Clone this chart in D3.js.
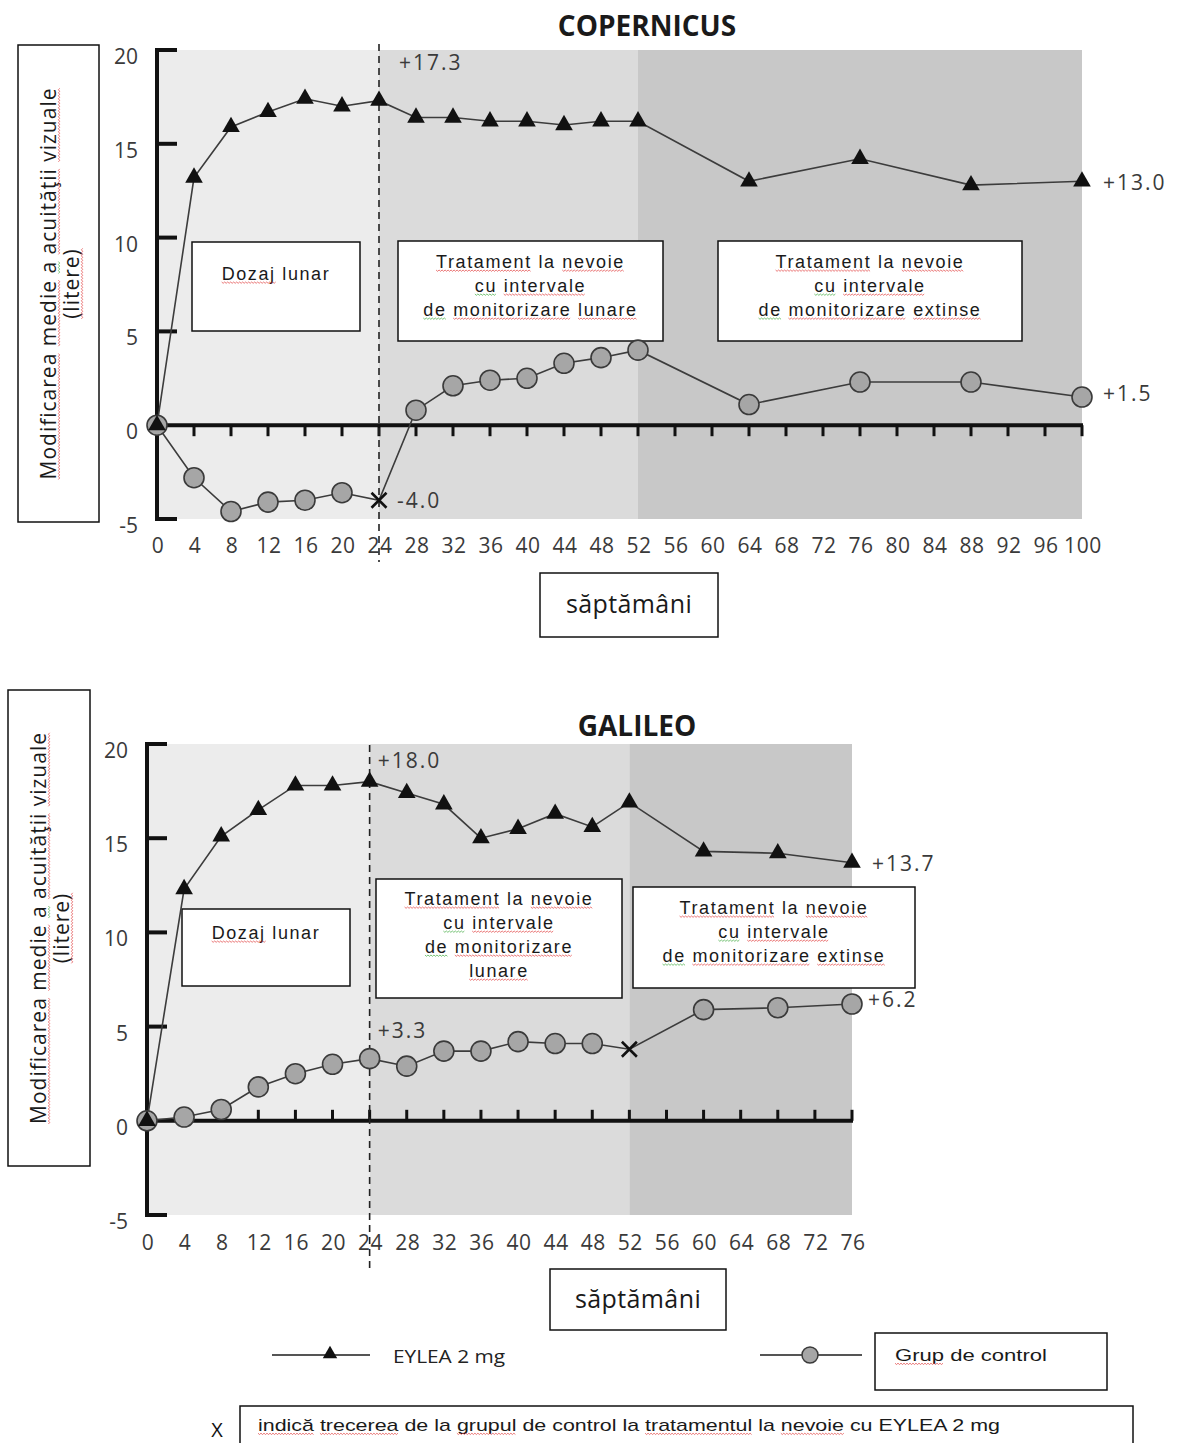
<!DOCTYPE html>
<html><head><meta charset="utf-8">
<script src="https://cdn.jsdelivr.net/npm/d3@7"></script>
<style>
body{margin:0;background:#fff}
svg text{font-family:"Open Sans","Noto Sans",sans-serif}
.box text{font-family:"Liberation Sans",Arial,sans-serif}
</style></head>
<body><svg id="c" width="1177" height="1443"></svg>
<script>
// ---------- DATA ----------
const copWeeks   = [0,4,8,12,16,20,24,28,32,36,40,44,48,52,64,76,88,100];
const copEylea   = [0,13.2,15.9,16.7,17.4,17.0,17.3,16.4,16.4,16.2,16.2,16.0,16.2,16.2,13.0,14.2,12.8,13.0];
const copControl = [0,-2.8,-4.6,-4.1,-4.0,-3.6,-4.0,0.8,2.1,2.4,2.5,3.3,3.6,4.0,1.1,2.3,2.3,1.5];
const copSwitchWeek = 24;
const copXTicks  = [0,4,8,12,16,20,24,28,32,36,40,44,48,52,56,60,64,68,72,76,80,84,88,92,96,100];
const copPhases  = [0,24,52,100];

const galWeeks   = [0,4,8,12,16,20,24,28,32,36,40,44,48,52,60,68,76];
const galEylea   = [0,12.3,15.1,16.5,17.8,17.8,18.0,17.4,16.8,15.0,15.5,16.3,15.6,16.9,14.3,14.2,13.7];
const galControl = [0,0.2,0.6,1.8,2.5,3.0,3.3,2.9,3.7,3.7,4.2,4.1,4.1,3.8,5.9,6.0,6.2];
const galSwitchWeek = 52;
const galXTicks  = [0,4,8,12,16,20,24,28,32,36,40,44,48,52,56,60,64,68,72,76];
const galPhases  = [0,24,52,76];

const yTicks = [20,15,10,5,0,-5];
const yLabelLines = ["~Modificarea ~medie ^a ~acuităţii ~vizuale","~(litere)"];
const xLabel = "săptămâni";
const phaseBoxA = ["~Dozaj lunar"];
const phaseBoxB = ["~Tratament la ~nevoie","^cu ~intervale","^de ~monitorizare ~lunare"];
const phaseBoxBGal = ["~Tratament la ~nevoie","^cu ~intervale","^de ~monitorizare","~lunare"];
const phaseBoxC = ["~Tratament la ~nevoie","^cu ~intervale","^de ~monitorizare ~extinse"];
const legendEylea = "EYLEA 2 mg";
const legendControl = "~Grup de control";
const legendCross = "~indică ~trecerea de la ~grupul de control la ~tratamentul la ~nevoie cu EYLEA 2 mg";
const crossSymbol = "X";

const svg = d3.select("#c");
const phaseFill = ["#ececec","#dbdbdb","#c8c8c8"];
const lineCol = "#3c3c3c";

// words prefixed with ~ get a red squiggle, ^ a green one
function addWords(parent, textSel, line){
  const words = line.split(" ");
  const marks = [];
  words.forEach((w,i)=>{
    let col=null, t=w;
    if(w[0]==="~"){col="#e03a3a";t=w.slice(1);}
    else if(w[0]==="^"){col="#3aa83a";t=w.slice(1);}
    const ts = textSel.append("tspan").text(t);
    if(col) marks.push([ts.node(),col]);
    if(i<words.length-1) textSel.append("tspan").text(" ");
  });
  marks.forEach(([n,col])=>{
    const b = n.getBBox();
    const yb = b.y + b.height*0.80 + 2;
    let d = `M${b.x},${yb}`;
    let up = true;
    for(let xx=b.x+1.5; xx<=b.x+b.width; xx+=1.5){ d += `L${xx},${yb+(up?1.3:0)}`; up=!up; }
    parent.append("path").attr("d",d).attr("fill","none").attr("stroke",col)
      .attr("stroke-width",0.8).attr("opacity",0.85);
  });
}

function textBox(g, x0,y0,w,h, lines, firstBase, lh, fs, ls){
  const b = g.append("g").attr("class","box");
  b.append("rect").attr("x",x0).attr("y",y0).attr("width",w).attr("height",h)
    .attr("fill","#fff").attr("stroke","#111").attr("stroke-width",1.5);
  lines.forEach((ln,i)=>{
    const t = b.append("text").attr("x",x0+w/2).attr("y",y0+firstBase+i*lh)
      .attr("text-anchor","middle").attr("font-size",fs).attr("fill","#1a1a1a")
      .attr("letter-spacing",ls);
    addWords(b, t, ln);
  });
}

function panel(cfg){
  const g = svg.append("g");
  const x = d3.scaleLinear().domain([0,cfg.xMax]).range(cfg.xRange);
  const y = d3.scaleLinear().domain([-5,20]).range(cfg.yRange);

  g.append("text").attr("x",cfg.titleX).attr("y",cfg.titleY).attr("text-anchor","middle")
    .attr("font-size",28).attr("font-weight","bold").attr("fill","#1a1a1a").text(cfg.title);

  for(let i=0;i<cfg.phases.length-1;i++){
    g.append("rect").attr("x",x(cfg.phases[i])).attr("y",y(20))
      .attr("width",x(cfg.phases[i+1])-x(cfg.phases[i])).attr("height",y(-5)-y(20))
      .attr("fill",phaseFill[i]);
  }

  // y label box
  const yb = g.append("g");
  yb.append("rect").attr("x",cfg.ylBox[0]).attr("y",cfg.ylBox[1]).attr("width",cfg.ylBox[2]).attr("height",cfg.ylBox[3])
    .attr("fill","#fff").attr("stroke","#111").attr("stroke-width",1.5);
  const cy = cfg.ylBox[1]+cfg.ylBox[3]/2;
  yLabelLines.forEach((ln,i)=>{
    const cx = cfg.ylBox[0]+38+i*23;
    const rg = yb.append("g").attr("transform",`translate(${cx},${cy}) rotate(-90)`);
    const t = rg.append("text").attr("text-anchor","middle").attr("font-size",21)
      .attr("letter-spacing",1).attr("fill","#1a1a1a");
    addWords(rg, t, ln);
  });

  // y axis
  const x0 = x(0);
  g.append("line").attr("x1",x0).attr("x2",x0).attr("y1",y(20)-2).attr("y2",y(-5)+2)
    .attr("stroke","#111").attr("stroke-width",4);
  yTicks.filter(v=>v!==0).forEach(v=>{
    g.append("line").attr("x1",x0).attr("x2",x0+20).attr("y1",y(v)).attr("y2",y(v))
      .attr("stroke","#111").attr("stroke-width",4);
  });
  yTicks.forEach(v=>{
    g.append("text").attr("x",x0-19).attr("y",y(v)+14).attr("text-anchor","end")
      .attr("font-size",21).attr("fill","#3a3a3a").text(v);
  });

  // x axis
  g.append("line").attr("x1",x0).attr("x2",x(cfg.xMax)+1).attr("y1",y(0)).attr("y2",y(0))
    .attr("stroke","#111").attr("stroke-width",4);
  cfg.xTicks.filter(v=>v>0).forEach(v=>{
    g.append("line").attr("x1",x(v)).attr("x2",x(v)).attr("y1",y(0))
      .attr("y2",y(0)+cfg.tickDir*11).attr("stroke","#111").attr("stroke-width",3);
  });
  cfg.xTicks.forEach(v=>{
    g.append("text").attr("x",x(v)+1).attr("y",y(-5)+cfg.xLabOff).attr("text-anchor","middle")
      .attr("font-size",21).attr("letter-spacing",0.6).attr("fill","#3a3a3a").text(v);
  });

  g.append("line").attr("x1",x(24)).attr("x2",x(24)).attr("y1",cfg.dashY[0]).attr("y2",cfg.dashY[1])
    .attr("stroke","#222").attr("stroke-width",1.6).attr("stroke-dasharray","7,5");

  cfg.boxes.forEach(b=>textBox(g,...b));

  const xb = g.append("g");
  xb.append("rect").attr("x",cfg.xlBox[0]).attr("y",cfg.xlBox[1]).attr("width",cfg.xlBox[2]).attr("height",cfg.xlBox[3])
    .attr("fill","#fff").attr("stroke","#111").attr("stroke-width",1.5);
  xb.append("text").attr("x",cfg.xlBox[0]+cfg.xlBox[2]/2).attr("y",cfg.xlBox[1]+cfg.xlBox[3]/2+8)
    .attr("text-anchor","middle").attr("font-size",25).attr("letter-spacing",0.4).attr("fill","#1a1a1a").text(xLabel);

  const line = d3.line().x(d=>x(d[0])).y(d=>y(d[1]));
  const ctrl = cfg.weeks.map((w,i)=>[w,cfg.control[i]]);
  const eyl = cfg.weeks.map((w,i)=>[w,cfg.eylea[i]]);
  g.append("path").attr("d",line(ctrl)).attr("fill","none").attr("stroke",lineCol).attr("stroke-width",1.6);
  g.append("path").attr("d",line(eyl)).attr("fill","none").attr("stroke",lineCol).attr("stroke-width",1.6);

  ctrl.forEach(d=>{
    if(d[0]===cfg.switchWeek){
      const cx=x(d[0]), cyy=y(d[1]), s=7.5;
      g.append("path").attr("d",`M${cx-s},${cyy-s}L${cx+s},${cyy+s}M${cx-s},${cyy+s}L${cx+s},${cyy-s}`)
        .attr("stroke","#111").attr("stroke-width",2.6);
    } else {
      g.append("circle").attr("cx",x(d[0])).attr("cy",y(d[1])).attr("r",10)
        .attr("fill","#a6a6a6").attr("stroke","#3a3a3a").attr("stroke-width",1.6);
    }
  });
  const tri = d3.symbol().type(d3.symbolTriangle).size(135);
  eyl.forEach(d=>{
    g.append("path").attr("d",tri()).attr("transform",`translate(${x(d[0])},${y(d[1])})`).attr("fill","#111");
  });

  cfg.notes.forEach(n=>{
    g.append("text").attr("x",x(n.w)+n.dx).attr("y",y(n.v)+n.dy)
      .attr("font-size",21).attr("letter-spacing",2).attr("fill","#3a3a3a").text(n.t);
  });
}

panel({
  title:"COPERNICUS", titleX:647, titleY:36,
  xMax:100, xRange:[157,1082], yRange:[519,50],
  xTicks:copXTicks, phases:copPhases, tickDir:1, xLabOff:34,
  weeks:copWeeks, eylea:copEylea, control:copControl, switchWeek:copSwitchWeek,
  ylBox:[18,45,81,477], xlBox:[540,573,178,64], dashY:[44,562],
  boxes:[
    [192,242,168,89, phaseBoxA, 38, 0, 18, 1.6],
    [398,241,265,100, phaseBoxB, 27, 24, 18, 1.6],
    [718,241,304,100, phaseBoxC, 27, 24, 18, 1.6]
  ],
  notes:[
    {w:24,v:17.3,t:"+17.3",dx:20,dy:-31},
    {w:100,v:13.0,t:"+13.0",dx:21,dy:9},
    {w:100,v:1.5,t:"+1.5",dx:21,dy:4},
    {w:24,v:-4.0,t:"-4.0",dx:18,dy:8}
  ]
});

panel({
  title:"GALILEO", titleX:637, titleY:736,
  xMax:76, xRange:[147,852], yRange:[1215,744],
  xTicks:galXTicks, phases:galPhases, tickDir:-1, xLabOff:35,
  weeks:galWeeks, eylea:galEylea, control:galControl, switchWeek:galSwitchWeek,
  ylBox:[8,690,82,476], xlBox:[550,1269,176,61], dashY:[745,1272],
  boxes:[
    [182,909,168,77, phaseBoxA, 30, 0, 18, 1.6],
    [376,879,246,119, phaseBoxBGal, 26, 24, 18, 1.6],
    [633,887,282,101, phaseBoxC, 27, 24, 18, 1.6]
  ],
  notes:[
    {w:24,v:18.0,t:"+18.0",dx:8,dy:-14},
    {w:76,v:13.7,t:"+13.7",dx:20,dy:8},
    {w:24,v:3.3,t:"+3.3",dx:8,dy:-21},
    {w:76,v:6.2,t:"+6.2",dx:16,dy:3}
  ]
});

// legend
const lg = svg.append("g");
lg.append("line").attr("x1",272).attr("x2",370).attr("y1",1355).attr("y2",1355).attr("stroke","#555").attr("stroke-width",2);
lg.append("path").attr("d",d3.symbol().type(d3.symbolTriangle).size(90)()).attr("transform","translate(330,1354)").attr("fill","#111");
lg.append("text").attr("x",393).attr("y",1363).attr("font-size",19).attr("fill","#222")
  .attr("textLength",112).attr("lengthAdjust","spacingAndGlyphs").text(legendEylea);
lg.append("line").attr("x1",760).attr("x2",862).attr("y1",1355).attr("y2",1355).attr("stroke","#555").attr("stroke-width",2);
lg.append("circle").attr("cx",810).attr("cy",1355).attr("r",8).attr("fill","#a6a6a6").attr("stroke","#3a3a3a").attr("stroke-width",1.5);
const gb = lg.append("g").attr("class","box");
gb.append("rect").attr("x",875).attr("y",1333).attr("width",232).attr("height",57).attr("fill","#fff").attr("stroke","#111").attr("stroke-width",1.5);
const gt = gb.append("text").attr("x",895).attr("y",1361).attr("font-size",17).attr("fill","#1a1a1a").attr("textLength",152).attr("lengthAdjust","spacingAndGlyphs");
addWords(gb, gt, legendControl);
lg.append("text").attr("x",217).attr("y",1437).attr("text-anchor","middle").attr("font-size",20)
  .attr("font-family","Liberation Sans, Arial, sans-serif").attr("fill","#111").text(crossSymbol);
const cb = lg.append("g").attr("class","box");
cb.append("rect").attr("x",240).attr("y",1406).attr("width",893).attr("height",60).attr("fill","#fff").attr("stroke","#111").attr("stroke-width",1.5);
const ct = cb.append("text").attr("x",258).attr("y",1431).attr("font-size",17).attr("fill","#1a1a1a").attr("textLength",742).attr("lengthAdjust","spacingAndGlyphs");
addWords(cb, ct, legendCross);
</script></body></html>
